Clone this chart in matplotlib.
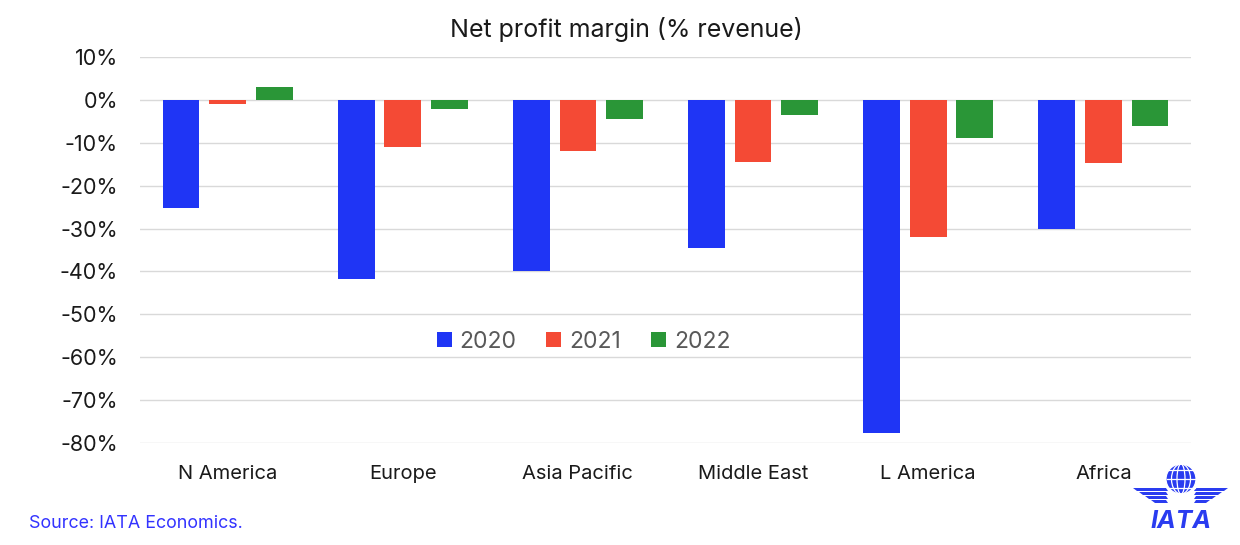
import numpy as np
import matplotlib
matplotlib.use("Agg")
from matplotlib import pyplot as plt
from matplotlib.patches import Circle, Ellipse, Polygon

regions = ["N America", "Europe", "Asia Pacific", "Middle East", "L America", "Africa"]
years = ["2020", "2021", "2022"]
margin_2020 = [-25.3, -41.8, -39.9, -34.5, -77.6, -30.1]
margin_2021 = [-0.9, -11.0, -11.9, -14.5, -32.0, -14.7]
margin_2022 = [3.0, -2.1, -4.4, -3.5, -8.9, -6.1]

colors = ["#1F35F5", "#F44A35", "#2A9637"]
iata_blue = "#2A3CF0"

plt.rcParams['font.family'] = ['Inter', 'DejaVu Sans']

fig = plt.figure(figsize=(12.4, 5.45), dpi=100)
ax = fig.add_axes([140 / 1240, 1 - 443 / 545, 1051 / 1240, 386 / 545])

x = np.arange(len(regions))
width = 0.21
step = 0.266
for i, (vals, yr) in enumerate(zip([margin_2020, margin_2021, margin_2022], years)):
    ax.bar(x + (i - 1) * step, vals, width, color=colors[i], label=yr, zorder=3)

ax.set_xlim(-0.5, len(regions) - 0.5)
ax.set_ylim(-80, 10)
ax.set_yticks(np.arange(-80, 11, 10))
ax.set_yticklabels([f"{v}%" for v in range(-80, 11, 10)])
ax.set_xticks(x)
ax.set_xticklabels(regions)
ax.grid(axis='y', color="#D9D9D9", linewidth=1, zorder=0)
for s in ax.spines.values():
    s.set_visible(False)
ax.tick_params(axis='y', length=0, pad=16, labelsize=15.5, labelcolor="#1a1a1a")
ax.tick_params(axis='x', length=0, pad=15.5, labelsize=14.5, labelcolor="#1a1a1a")

fig.text(626 / 1240, 1 - 30 / 545, "Net profit margin (% revenue)", fontsize=18,
         color="#1a1a1a", ha='center', va='center')

leg = ax.legend(loc='center', bbox_to_anchor=(0.422, 0.262), ncol=3, frameon=False,
                fontsize=16.5, handlelength=0.65, handleheight=0.65, handletextpad=0.35,
                columnspacing=1.3)
for t in leg.get_texts():
    t.set_color("#595959")

fig.text(29 / 1240, 1 - 523 / 545, "Source: IATA Economics.", color="#3333FF",
         fontsize=12.9, va='center', ha='left')

# IATA logo
lx = fig.add_axes([1130 / 1240, 1 - 535 / 545, 100 / 1240, 70 / 545])
lx.set_xlim(0, 100)
lx.set_ylim(0, 70)
lx.axis('off')
lx.add_patch(Circle((51, 56), 15, facecolor=iata_blue, edgecolor='none', zorder=3))
for w in [15, 9.5, 4]:
    lx.add_patch(Ellipse((51, 56), 2 * w, 30, fill=False, edgecolor='white',
                         linewidth=0.9, zorder=4))
for yy in [47, 56, 65]:
    lx.plot([37, 65], [yy, yy], color='white', linewidth=0.9, zorder=4)
for k in range(4):
    off = k * 4
    lx.add_patch(Polygon([[3 + off * 1.5, 47 - off], [36, 47 - off], [38, 44 - off],
                          [7 + off * 1.5, 44 - off]], facecolor=iata_blue, edgecolor='none'))
    lx.add_patch(Polygon([[98 - off * 1.5, 47 - off], [66, 47 - off], [64, 44 - off],
                          [94 - off * 1.5, 44 - off]], facecolor=iata_blue, edgecolor='none'))
lx.text(51, 14, "IATA", color=iata_blue, fontsize=18, fontweight='bold', style='italic',
        ha='center', va='center')

fig.savefig("out.png", dpi=100, facecolor='white')
